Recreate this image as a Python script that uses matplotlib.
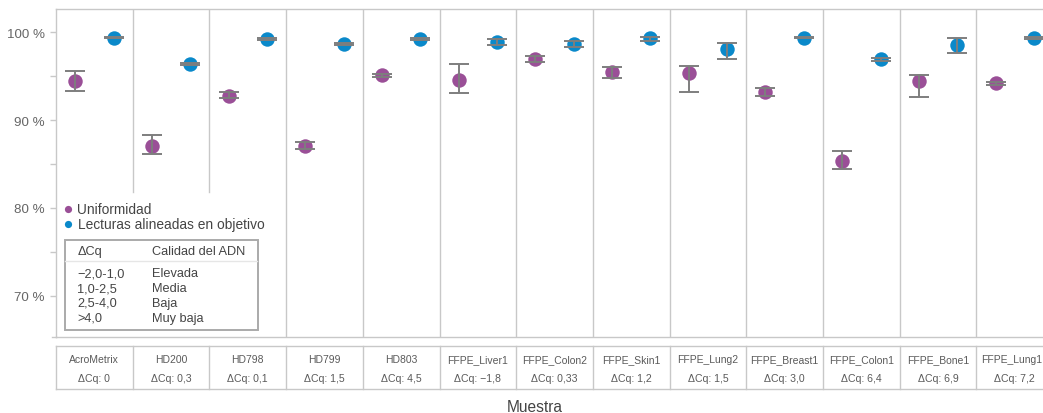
import matplotlib
matplotlib.use("Agg")
import matplotlib.pyplot as plt
from matplotlib.patches import Rectangle
from matplotlib.transforms import blended_transform_factory, offset_copy
import numpy as np

plt.rcParams['font.family'] = ['Liberation Sans', 'DejaVu Sans']

# Samples and their delta-Cq values
samples = ["AcroMetrix", "HD200", "HD798", "HD799", "HD803", "FFPE_Liver1",
           "FFPE_Colon2", "FFPE_Skin1", "FFPE_Lung2", "FFPE_Breast1",
           "FFPE_Colon1", "FFPE_Bone1", "FFPE_Lung1"]
dcq_labels = ["0", "0,3", "0,1", "1,5", "4,5", "\u22121,8", "0,33", "1,2",
              "1,5", "3,0", "6,4", "6,9", "7,2"]

# Uniformity (%) with lower / upper error limits
unif = [94.4, 87.1, 92.8, 87.1, 95.1, 94.6, 97.0, 95.5, 95.4, 93.2, 85.3, 94.5, 94.2]
unif_lo = [93.3, 86.1, 92.5, 86.7, 94.95, 93.1, 96.6, 94.8, 93.2, 92.8, 84.4, 92.6, 94.05]
unif_hi = [95.6, 88.3, 93.2, 87.5, 95.25, 96.4, 97.3, 96.0, 96.2, 93.7, 86.5, 95.1, 94.35]

# On-target aligned reads (%) with lower / upper error limits
ontarget = [99.4, 96.4, 99.2, 98.7, 99.2, 98.9, 98.7, 99.3, 98.1, 99.4, 96.9, 98.5, 99.35]
ont_lo = [99.3, 96.3, 99.1, 98.6, 99.1, 98.6, 98.3, 99.0, 96.9, 99.3, 96.7, 97.6, 99.25]
ont_hi = [99.5, 96.5, 99.3, 98.8, 99.3, 99.2, 99.0, 99.5, 98.8, 99.5, 97.1, 99.3, 99.45]

dq_ranges = ["\u22122,0-1,0", "1,0-2,5", "2,5-4,0", ">4,0"]
dq_quality = ["Elevada", "Media", "Baja", "Muy baja"]

PURPLE = "#9A4F97"
BLUE = "#0A89CA"
ERR = "#7E7E7E"
GRID = "#C8C8C8"
TXT = "#5A5A5A"
DARK = "#444444"

W, H = 1043, 414
fig = plt.figure(figsize=(W / 100, H / 100), dpi=100)
col_w = 76.7
n = len(samples)
left_px, top_px, bot_px = 56, 10, 338
ax = fig.add_axes([left_px / W, 1 - bot_px / H, n * col_w / W, (bot_px - top_px) / H])

ymin, ymax = 65.3, 102.65
ax.set_xlim(0, n)
ax.set_ylim(ymin, ymax)

x = np.arange(n)
xu = x + 0.25
xb = x + 0.75

def draw_series(xs, vals, lo, hi, color):
    vals = np.array(vals)
    err = np.vstack([vals - np.array(lo), np.array(hi) - vals])
    ax.plot(xs, vals, 'o', ms=10.4, color=color, mec='none', zorder=3)
    ax.errorbar(xs, vals, yerr=err, fmt='none', ecolor=ERR, elinewidth=1.4,
                capsize=7.0, capthick=1.4, zorder=4)

draw_series(xu, unif, unif_lo, unif_hi, PURPLE)
draw_series(xb, ontarget, ont_lo, ont_hi, BLUE)

# column separators (the first two stop above the legend)
legend_cut = 81.8
for i in range(1, n):
    bottom_y = legend_cut if i <= 2 else ymin
    ax.plot([i, i], [bottom_y, ymax], color=GRID, lw=1.0, zorder=1)

ax.spines['right'].set_visible(False)
for s in ['top', 'left', 'bottom']:
    ax.spines[s].set_color(GRID)
    ax.spines[s].set_linewidth(1.0)

ax.set_yticks([70, 80, 90, 100])
ax.set_yticklabels(["70 %", "80 %", "90 %", "100 %"])
ax.set_yticks([75, 85, 95], minor=True)
ax.tick_params(axis='y', which='both', length=4, width=1.0, color=GRID,
               labelcolor="#666666", labelsize=9.6, pad=4)
ax.set_xticks([])

tr_ax = ax.transAxes
def ax_y(px):
    return (bot_px - px) / (bot_px - top_px)
def ax_x(px):
    return (px - left_px) / (n * col_w)

# legend for the two series
ax.plot([ax_x(68)], [ax_y(210)], 'o', ms=5.2, color=PURPLE, mec='none',
        transform=tr_ax, clip_on=False)
ax.plot([ax_x(68)], [ax_y(225)], 'o', ms=5.2, color=BLUE, mec='none',
        transform=tr_ax, clip_on=False)
ax.text(ax_x(77.5), ax_y(210), "Uniformidad", transform=tr_ax, va='center',
        ha='left', fontsize=9.9, color=DARK)
ax.text(ax_x(77.5), ax_y(225), "Lecturas alineadas en objetivo", transform=tr_ax,
        va='center', ha='left', fontsize=9.9, color=DARK)

# delta-Cq / DNA quality key
bx0, bx1, by0, by1 = ax_x(64.5), ax_x(258), ax_y(330.5), ax_y(241)
ax.add_patch(Rectangle((bx0, by0), bx1 - bx0, by1 - by0, transform=tr_ax,
                       fill=True, facecolor='white', edgecolor="#AAAAAA",
                       lw=1.4, zorder=5, clip_on=False))
ax.plot([bx0 + 0.001, bx1 - 0.001], [ax_y(262)] * 2, color="#E6E6E6", lw=1.0,
        transform=tr_ax, zorder=6, clip_on=False)
ax.text(ax_x(77.5), ax_y(252), "\u0394Cq", transform=tr_ax, va='center',
        ha='left', fontsize=9.2, color=DARK, zorder=6)
ax.text(ax_x(152), ax_y(252), "Calidad del ADN", transform=tr_ax, va='center',
        ha='left', fontsize=9.2, color=DARK, zorder=6)
for k, (r, q) in enumerate(zip(dq_ranges, dq_quality)):
    yy = ax_y(274.5 + k * 14.7)
    ax.text(ax_x(77.5), yy, r, transform=tr_ax, va='center', ha='left',
            fontsize=9.2, color=DARK, zorder=6)
    ax.text(ax_x(152), yy, q, transform=tr_ax, va='center', ha='left',
            fontsize=9.2, color=DARK, zorder=6)

# sample table beneath the plot
bt = blended_transform_factory(ax.transData, ax.transAxes)
t_top, t_bot = ax_y(346.5), ax_y(390)
ax.plot([0, n], [t_top, t_top], color=GRID, lw=1.0, transform=bt, clip_on=False)
ax.plot([0, n], [t_bot, t_bot], color=GRID, lw=1.0, transform=bt, clip_on=False)
for i in range(0, n + 1):
    ax.plot([i, i], [t_bot, t_top], color=GRID, lw=1.0, transform=bt, clip_on=False)
# the last column runs past the figure edge; nudge its name inward a little
bt_last = offset_copy(bt, fig=fig, x=-3, y=0, units='dots')
for i, (s, d) in enumerate(zip(samples, dcq_labels)):
    name_tr = bt_last if i == n - 1 else bt
    ax.text(i + 0.5, ax_y(360), s, transform=name_tr, ha='center', va='center',
            fontsize=7.5, color=TXT)
    ax.text(i + 0.5, ax_y(379.5), "\u0394Cq: " + d, transform=bt, ha='center',
            va='center', fontsize=7.6, color=TXT)
# short extension of the x baseline to the left
ax.plot([ax_x(52), 0], [0, 0], color=GRID, lw=1.0, transform=tr_ax, clip_on=False)

fig.text(535 / W, 1 - 407.5 / H, "Muestra", ha='center', va='center',
         fontsize=11.2, color=DARK)

fig.savefig("out.png", dpi=100)
